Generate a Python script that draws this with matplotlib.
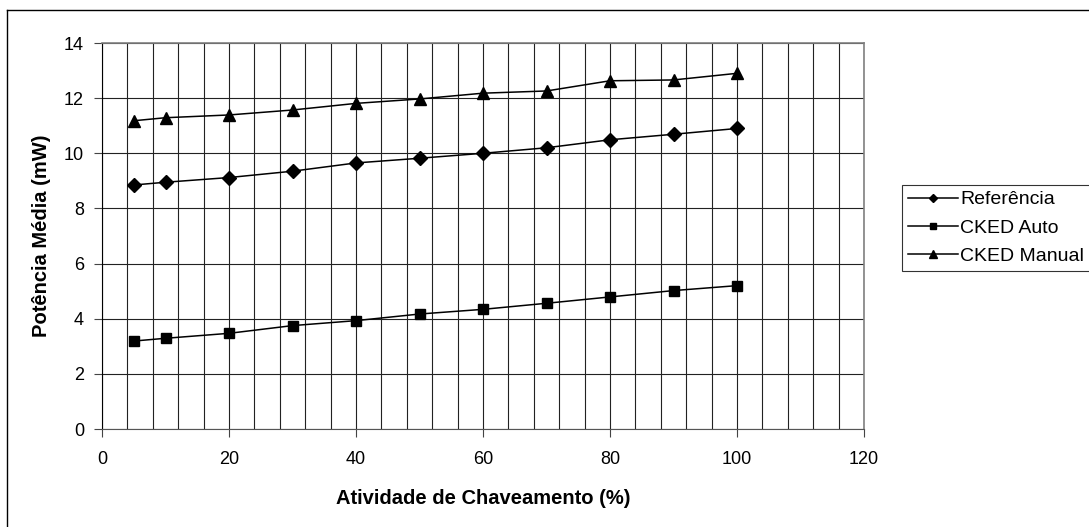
import matplotlib.pyplot as plt
from matplotlib.lines import Line2D

plt.rcParams['font.family'] = ['Liberation Sans', 'DejaVu Sans']

# atividade de chaveamento (%)
atividade = [5, 10, 20, 30, 40, 50, 60, 70, 80, 90, 100]

# potencia media (mW)
referencia = [8.85, 8.95, 9.12, 9.35, 9.65, 9.82, 10.0, 10.2, 10.49, 10.69, 10.9]
cked_auto = [3.19, 3.29, 3.47, 3.75, 3.93, 4.17, 4.34, 4.56, 4.79, 5.02, 5.2]
cked_manual = [11.18, 11.29, 11.39, 11.57, 11.81, 11.97, 12.18, 12.26, 12.63, 12.66, 12.9]

W, H = 1089, 527
fig = plt.figure(figsize=(W / 100, H / 100), dpi=100)
ax = fig.add_axes([102 / W, 1 - 429 / H, (864 - 102) / W, (429 - 43) / H])

ax.plot(atividade, referencia, color='black', lw=1.1, marker='D', ms=7, label='Referência')
ax.plot(atividade, cked_auto, color='black', lw=1.1, marker='s', ms=7, label='CKED Auto')
ax.plot(atividade, cked_manual, color='black', lw=1.1, marker='^', ms=8.5, label='CKED Manual')

ax.set_xlim(0, 120)
ax.set_ylim(0, 14)
ax.set_xticks(range(0, 121, 20))
ax.set_xticks(range(0, 121, 4), minor=True)
ax.set_yticks(range(0, 15, 2))
ax.grid(which='both', axis='x', color='#222222', lw=0.8)
ax.grid(which='major', axis='y', color='#222222', lw=0.8)
ax.set_axisbelow(True)
ax.tick_params(which='minor', length=0)
ax.tick_params(which='major', length=6, width=0.8, labelsize=13, color='#444444')
ax.tick_params(axis='x', pad=10)
ax.tick_params(axis='y', pad=7)

for s in ['top', 'right']:
    ax.spines[s].set_color('#808080')
    ax.spines[s].set_linewidth(1.2)
ax.spines['left'].set_color('black')
ax.spines['bottom'].set_color('#555555')

ax.set_xlabel('Atividade de Chaveamento (%)', fontsize=14.5, fontweight='bold', labelpad=15)
ax.set_ylabel('Potência Média (mW)', fontsize=14.5, fontweight='bold', labelpad=9)

leg = ax.legend(loc='upper left', bbox_to_anchor=(902 / W, 1 - 185 / H),
                bbox_transform=fig.transFigure, fontsize=14, frameon=True,
                fancybox=False, edgecolor='black', markerscale=0.65,
                handlelength=2.6, handletextpad=0.1, labelspacing=0.55,
                borderpad=0.3, borderaxespad=0)
leg.get_frame().set_linewidth(0.8)

# moldura externa do grafico
fig.add_artist(Line2D([7 / W, 7 / W], [0, 1 - 10 / H], color='black', lw=1))
fig.add_artist(Line2D([7 / W, 1], [1 - 10 / H, 1 - 10 / H], color='black', lw=1))

fig.savefig('out.png', dpi=100)
